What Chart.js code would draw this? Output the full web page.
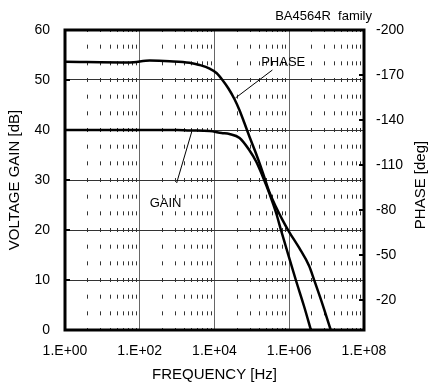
<!DOCTYPE html>
<html>
<head>
<meta charset="utf-8">
<script src="https://cdn.jsdelivr.net/npm/chart.js@4.4.1/dist/chart.umd.min.js"></script>
<style>
    html, body { margin: 0; padding: 0; background: #fff; }
    #wrap { width: 430px; height: 385px; }
</style>
</head>
<body>
<div id="wrap"><canvas id="bodeChart" width="430" height="385"></canvas></div>
<script>
// Ganancia (dB) frente a frecuencia (Hz)
const gainFreq = [1, 100, 1000, 2150, 7400, 15500, 25000, 47000, 85000, 130000, 195000, 295000, 450000, 600000, 810000, 1500000, 2500000, 3800000];
const gainDb = [40, 40, 40, 39.9, 39.8, 39.4, 39.2, 38.4, 36, 33.7, 30.7, 27.3, 23.3, 20, 16.7, 10, 4.7, 0];

// Fase (deg) frente a frecuencia (Hz)
const phaseFreq = [1, 54, 186, 630, 2150, 3980, 7400, 11300, 16300, 23600, 34100, 46400, 63100, 85800, 129000, 194000, 293000, 442000, 663000, 1000000, 1850000, 3410000, 4640000, 7720000, 12900000];
const phaseDeg = [-178.9, -178.4, -179.6, -179.2, -178.2, -176.7, -174.3, -171.3, -166.7, -161, -154, -146.7, -138, -129, -117.7, -105.3, -92, -82, -73.3, -65.3, -54.7, -42.7, -33.3, -17.3, 0];

// Ejes
const freqMajor = [1, 1e2, 1e4, 1e6, 1e8];
const freqMinorSteps = [4, 9, 16, 25, 36, 49, 64, 81];
const gainTicks = [0, 10, 20, 30, 40, 50, 60];
const phaseTicks = [-200, -170, -140, -110, -80, -50, -20];

// Flechas de las etiquetas (frecuencia, dB)
const phasePointerFreq = [36300, 354000];
const phasePointerDb = [46.4, 52];
const gainPointerFreq = [970, 2450];
const gainPointerDb = [29.4, 39.6];
const curveLabels = [
    { text: 'PHASE', freq: 690000, db: 53.6 },
    { text: 'GAIN', freq: 490, db: 25.4 }
];

const FONT = "'Liberation Sans', Arial, sans-serif";
Chart.defaults.font.family = FONT;
Chart.defaults.font.size = 14;
Chart.defaults.color = '#000';

function isMajorFreq(v) {
    return freqMajor.some(m => Math.abs(v / m - 1) < 1e-9);
}

const freqTicks = [];
freqMajor.forEach((m, i) => {
    freqTicks.push(m);
    if (i < freqMajor.length - 1) {
        freqMinorSteps.forEach(k => freqTicks.push(m * k));
    }
});

// Marco, marcas interiores y textos
const framePlugin = {
    id: 'frame',
    afterDatasetsDraw(chart) {
        const ctx = chart.ctx;
        const a = chart.chartArea;
        const yL = chart.scales.y;
        const yR = chart.scales.y2;
        const x = chart.scales.x;
        ctx.save();
        ctx.strokeStyle = '#000';
        ctx.lineWidth = 2;
        gainTicks.forEach(v => {
            const py = yL.getPixelForValue(v);
            ctx.beginPath();
            ctx.moveTo(a.left, py);
            ctx.lineTo(a.left + 5, py);
            ctx.stroke();
        });
        phaseTicks.forEach(v => {
            const py = yR.getPixelForValue(v);
            ctx.beginPath();
            ctx.moveTo(a.right - 5, py);
            ctx.lineTo(a.right, py);
            ctx.stroke();
        });
        ctx.lineWidth = 3;
        ctx.strokeRect(a.left, a.top, a.right - a.left, a.bottom - a.top);

        ctx.font = '13px ' + FONT;
        ctx.fillStyle = '#000';
        ctx.textAlign = 'center';
        ctx.textBaseline = 'middle';
        curveLabels.forEach(l => {
            ctx.fillText(l.text, x.getPixelForValue(l.freq), yL.getPixelForValue(l.db));
        });
        ctx.textAlign = 'right';
        ctx.fillText('BA4564R  family', a.right + 8, 16);

        // título del eje derecho, leído de abajo arriba
        ctx.font = '15px ' + FONT;
        ctx.textAlign = 'center';
        ctx.translate(421, (a.top + a.bottom) / 2 + 5);
        ctx.rotate(-Math.PI / 2);
        ctx.fillText('PHASE [deg]', 0, 0);
        ctx.restore();
    }
};

const ctx = document.getElementById('bodeChart').getContext('2d');
const bodeChart = new Chart(ctx, {
    type: 'line',
    data: {
        datasets: [
            {
                label: 'GAIN',
                data: gainFreq.map((f, i) => ({ x: f, y: gainDb[i] })),
                yAxisID: 'y',
                borderColor: '#000',
                borderWidth: 2.5,
                pointRadius: 0,
                cubicInterpolationMode: 'monotone'
            },
            {
                label: 'PHASE',
                data: phaseFreq.map((f, i) => ({ x: f, y: phaseDeg[i] })),
                yAxisID: 'y2',
                borderColor: '#000',
                borderWidth: 2.5,
                pointRadius: 0,
                cubicInterpolationMode: 'monotone'
            },
            {
                label: 'phasePointer',
                data: phasePointerFreq.map((f, i) => ({ x: f, y: phasePointerDb[i] })),
                yAxisID: 'y',
                borderColor: '#000',
                borderWidth: 1,
                pointRadius: 0
            },
            {
                label: 'gainPointer',
                data: gainPointerFreq.map((f, i) => ({ x: f, y: gainPointerDb[i] })),
                yAxisID: 'y',
                borderColor: '#000',
                borderWidth: 1,
                pointRadius: 0
            }
        ]
    },
    options: {
        responsive: false,
        devicePixelRatio: 1,
        animation: false,
        layout: { padding: { top: 30, left: 0, right: 0, bottom: 0 } },
        plugins: {
            legend: { display: false },
            tooltip: { enabled: false }
        },
        scales: {
            x: {
                type: 'logarithmic',
                min: 1,
                max: 1e8,
                afterBuildTicks: scale => {
                    scale.ticks = freqTicks.map(v => ({ value: v }));
                },
                afterFit: scale => { scale.height = 55; },
                ticks: {
                    autoSkip: false,
                    maxRotation: 0,
                    padding: 13,
                    callback: function(value) {
                        if (!isMajorFreq(value)) return '';
                        const exp = Math.round(Math.log10(value));
                        return '1.E+' + String(exp).padStart(2, '0');
                    }
                },
                grid: {
                    drawTicks: false,
                    lineWidth: 1,
                    color: c => (c.tick && isMajorFreq(c.tick.value)) ? '#666' : '#333'
                },
                border: {
                    display: false,
                    dash: c => (c.tick && !isMajorFreq(c.tick.value)) ? [4, 12.667] : [],
                    dashOffset: 2
                },
                title: {
                    display: true,
                    text: 'FREQUENCY [Hz]',
                    font: { size: 15 },
                    padding: { top: 2, bottom: 1 }
                }
            },
            y: {
                type: 'linear',
                position: 'left',
                min: 0,
                max: 60,
                afterBuildTicks: scale => {
                    scale.ticks = gainTicks.map(v => ({ value: v }));
                },
                afterFit: scale => { scale.width = 65; },
                ticks: { padding: 15 },
                grid: {
                    drawTicks: false,
                    lineWidth: 1,
                    color: '#333'
                },
                border: { display: false },
                title: {
                    display: true,
                    text: 'VOLTAGE GAIN [dB]',
                    font: { size: 15 },
                    padding: { top: 6, bottom: 0 }
                }
            },
            y2: {
                type: 'linear',
                position: 'right',
                min: -200,
                max: 0,
                reverse: true,
                afterBuildTicks: scale => {
                    scale.ticks = phaseTicks.map(v => ({ value: v }));
                },
                afterFit: scale => { scale.width = 66; },
                ticks: { padding: 12 },
                grid: {
                    drawOnChartArea: false,
                    drawTicks: false
                },
                border: { display: false },
                title: { display: false }
            }
        }
    },
    plugins: [framePlugin]
});
</script>
</body>
</html>
